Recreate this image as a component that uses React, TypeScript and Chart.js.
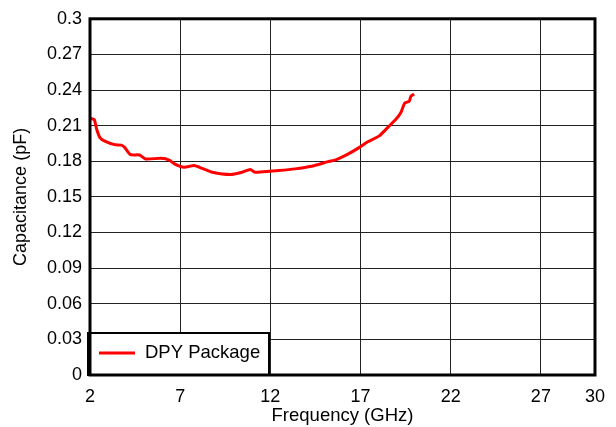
import React, { useEffect, useRef } from "react";
import { Chart, registerables } from "chart.js";

Chart.register(...registerables);

const freqGHz = [2.05, 2.24, 2.37, 2.55, 2.82, 3.37, 3.74, 3.92, 4.25, 4.75, 5.08, 5.94, 6.4, 6.68, 7.22, 7.77, 8.23, 8.78, 9.79, 10.43, 10.89, 11.16, 11.99, 12.45, 13.36, 14.28, 15.2, 15.66, 16.3, 16.94, 17.4, 18.04, 18.5, 18.96, 19.23, 19.45, 19.7, 19.79, 19.97];
const capPF = [0.216, 0.215, 0.207, 0.2, 0.197, 0.194, 0.1936, 0.1917, 0.1856, 0.1853, 0.182, 0.1825, 0.181, 0.1778, 0.175, 0.1764, 0.174, 0.1708, 0.1689, 0.1708, 0.173, 0.1708, 0.1717, 0.1722, 0.1736, 0.1758, 0.1797, 0.1814, 0.186, 0.1917, 0.1964, 0.2014, 0.2083, 0.2153, 0.2208, 0.229, 0.2306, 0.2347, 0.2367];
const xTicks = [2, 7, 12, 17, 22, 27, 30];
const seriesLabel = "DPY Package";
const xTitle = "Frequency (GHz)";
const yTitle = "Capacitance (pF)";

const FONT = "'Liberation Sans', Arial, sans-serif";

const framePlugin = {
  id: "frame",
  afterDatasetsDraw(chart: any) {
    const { ctx, chartArea } = chart;
    const { left, top, right, bottom } = chartArea;
    ctx.save();
    // legend box
    const bx = left - 2, by = 333, bw = 269 - bx, bh = bottom - by;
    ctx.fillStyle = "#fff";
    ctx.fillRect(bx, by, bw, bh);
    ctx.strokeStyle = "#000";
    ctx.lineWidth = 2;
    ctx.strokeRect(bx, by, bw, bh);
    ctx.strokeStyle = "#ff0000";
    ctx.lineWidth = 3;
    ctx.beginPath();
    ctx.moveTo(99, 353);
    ctx.lineTo(135, 353);
    ctx.stroke();
    ctx.fillStyle = "#000";
    ctx.font = `18.5px ${FONT}`;
    ctx.textBaseline = "middle";
    ctx.textAlign = "left";
    ctx.fillText(chart.data.datasets[0].label, 145, 353);
    // frame
    ctx.strokeStyle = "#000";
    ctx.lineWidth = 3;
    ctx.strokeRect(left, top, right - left, bottom - top);
    ctx.restore();
  },
};

export default function App() {
  const ref = useRef<HTMLCanvasElement>(null);
  useEffect(() => {
    const chart = new Chart(ref.current!, {
      type: "line",
      data: {
        datasets: [
          {
            label: seriesLabel,
            data: freqGHz.map((f, i) => ({ x: f, y: capPF[i] })),
            borderColor: "#ff0000",
            borderWidth: 3,
            pointRadius: 0,
            tension: 0.2,
            fill: false,
          },
        ],
      },
      options: {
        animation: false,
        responsive: false,
        devicePixelRatio: 1,
        layout: { padding: { top: 15, right: 17, left: 0, bottom: 0 } },
        plugins: { legend: { display: false }, tooltip: { enabled: false } },
        scales: {
          x: {
            type: "linear",
            min: 2,
            max: 30,
            afterBuildTicks: (scale: any) => {
              scale.ticks = xTicks.map((v) => ({ value: v }));
            },
            afterFit: (scale: any) => {
              scale.height = 52;
            },
            grid: { color: "#222", lineWidth: 1, drawTicks: false },
            border: { display: false },
            ticks: {
              color: "#000",
              font: { family: FONT, size: 18 },
              padding: 11,
              maxRotation: 0,
              autoSkip: false,
            },
            title: {
              display: true,
              text: xTitle,
              color: "#000",
              font: { family: FONT, size: 18.5 },
              padding: { top: 0, bottom: 0 },
            },
          },
          y: {
            type: "linear",
            min: 0,
            max: 0.3,
            afterFit: (scale: any) => {
              scale.width = 90;
            },
            grid: { color: "#222", lineWidth: 1, drawTicks: false },
            border: { display: false },
            ticks: {
              stepSize: 0.03,
              color: "#000",
              font: { family: FONT, size: 18 },
              padding: 8,
              callback: (v: any) => String(Number(Number(v).toFixed(2))),
            },
            title: {
              display: true,
              text: yTitle,
              color: "#000",
              font: { family: FONT, size: 18 },
              padding: { top: 10, bottom: 0 },
            },
          },
        },
      },
      plugins: [framePlugin],
    } as any);
    return () => chart.destroy();
  }, []);
  return (
    <div style={{ position: "fixed", left: 0, top: 0, width: 616, height: 427, background: "#fff" }}>
      <canvas ref={ref} width={616} height={427} style={{ width: 616, height: 427 }} />
    </div>
  );
}
